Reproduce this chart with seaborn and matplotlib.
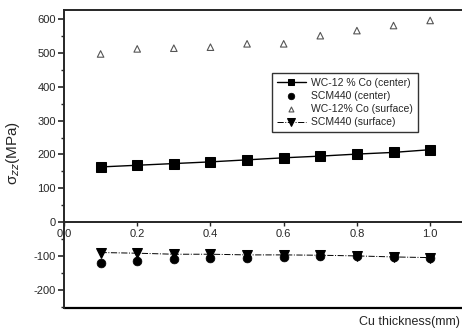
import numpy as np
import pandas as pd
import matplotlib
matplotlib.use("Agg")
import matplotlib.pyplot as plt
import seaborn as sns
from matplotlib.ticker import MultipleLocator

# Cu thickness (mm)
thickness = [0.1, 0.2, 0.3, 0.4, 0.5, 0.6, 0.7, 0.8, 0.9, 1.0]

# sigma_zz (MPa)
wc_center = [163, 168, 173, 178, 184, 190, 195, 201, 206, 214]
scm_center = [-120, -115, -110, -106, -105, -103, -101, -100, -103, -106]
wc_surface = [497, 512, 514, 517, 527, 527, 551, 566, 581, 596]
scm_surface = [-90, -92, -95, -95, -97, -97, -98, -100, -103, -105]

labels = ["WC-12 % Co (center)", "SCM440 (center)",
          "WC-12% Co (surface)", "SCM440 (surface)"]

sns.set_style("ticks")
plt.rcParams['font.family'] = ['Liberation Sans', 'DejaVu Sans']
plt.rcParams['axes.unicode_minus'] = False

fig = plt.figure(figsize=(4.62, 3.36), dpi=100)
ax = fig.add_axes([0.1385, 0.0833, 0.8615, 0.887])

sns.lineplot(x=thickness, y=wc_center, ax=ax, color='black', lw=1.0,
             marker='s', markersize=6.5, markeredgecolor='black',
             label=labels[0])
sns.scatterplot(x=thickness, y=scm_center, ax=ax, color='black',
                marker='o', s=40, edgecolor='black', label=labels[1])
sns.scatterplot(x=thickness, y=wc_surface, ax=ax, marker='^', s=22,
                facecolor='none', edgecolor='#555555', linewidth=0.8,
                label=labels[2])
sns.lineplot(x=thickness, y=scm_surface, ax=ax, color='black', lw=0.7,
             linestyle='-.', marker='v', markersize=7.5,
             markeredgecolor='black', label=labels[3])

ax.set_xlim(0, 1.087)
ax.set_ylim(-254, 627)

# x axis drawn through zero
ax.spines['bottom'].set_position(('data', 0))
ax.spines['right'].set_visible(False)
for s in ['left', 'top', 'bottom']:
    ax.spines[s].set_linewidth(1.4)
ax.axhline(-254, color='black', lw=1.6, clip_on=False)

ax.set_xticks([0.0, 0.2, 0.4, 0.6, 0.8, 1.0])
ax.set_xticklabels(['0.0', '0.2', '0.4', '0.6', '0.8', '1.0'])
ax.yaxis.set_minor_locator(MultipleLocator(50))
ax.set_yticks([-200, -100, 0, 100, 200, 300, 400, 500, 600])
ax.tick_params(axis='x', direction='out', length=3, width=1, labelsize=8, pad=2)
ax.tick_params(axis='y', which='major', direction='out', length=4, width=1.2,
               labelsize=8, pad=2)
ax.tick_params(axis='y', which='minor', direction='out', length=2.5, width=1)

ax.set_xlabel('')
ax.set_ylabel('σ$_{zz}$(MPa)', fontsize=11)
ax.yaxis.set_label_coords(-0.105, 0.52)
fig.text(0.995, 0.025, 'Cu thickness(mm)', ha='right', va='bottom', fontsize=9)

leg = ax.legend(loc='upper left', bbox_to_anchor=(0.51, 0.805), fontsize=7.5,
                frameon=True, fancybox=False, edgecolor='black',
                borderpad=0.45, labelspacing=0.3, handlelength=2.8,
                handletextpad=0.5, markerscale=0.75)
leg.get_frame().set_linewidth(1.0)

plt.savefig('out.png', dpi=100)
